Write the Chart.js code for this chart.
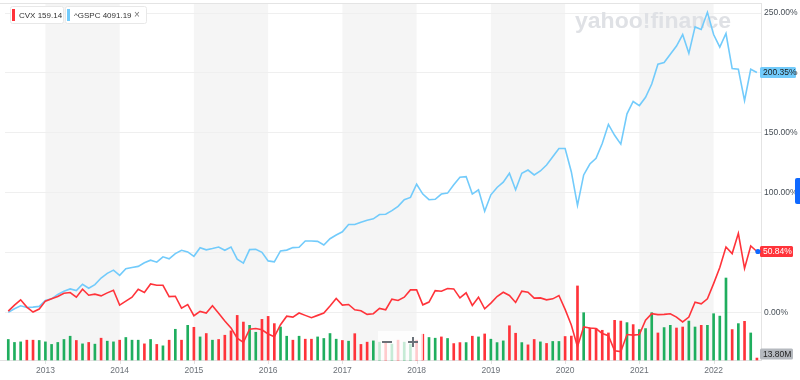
<!DOCTYPE html>
<html><head><meta charset="utf-8">
<script src="https://cdn.jsdelivr.net/npm/chart.js@4.4.1/dist/chart.umd.min.js"></script>
<style>html,body{margin:0;padding:0;background:#fff}#wrap{width:800px;height:380px;position:relative}</style>
</head><body><div id="wrap"><canvas id="c" width="800" height="380"></canvas></div>
<script>
// Monthly categories: Jul 2012 .. Aug 2022
const monthNames = ['Jan','Feb','Mar','Apr','May','Jun','Jul','Aug','Sep','Oct','Nov','Dec'];
const months = [];
for (let y = 2012, m = 6; !(y === 2022 && m === 8); ) { months.push(monthNames[m] + ' ' + y); m++; if (m === 12) { m = 0; y++; } }

const yearLabels = ['2013','2014','2015','2016','2017','2018','2019','2020','2021','2022'];
const shadedYears = ['2013','2015','2017','2019','2021'];
const pctTicks = [0, 50, 100, 150, 200, 250];

// CVX % change
const cvx = [
 1.0, 6.1, 10.5, 4.4, 0.3, 2.8, 9.4, 11.3, 13.2, 16.0,
 16.6, 12.7, 19.3, 14.3, 15.2, 13.8, 16.3, 18.5, 6.1, 9.4,
 12.7, 19.3, 16.6, 23.7, 22.6, 22.6, 13.2, 13.5, 3.6, 6.6,
 -2.8, 0.8, -0.5, 5.5, -0.8, -7.2, -13, -21.5, -25, -14,
 -13.5, -14.5, -18, -20.4, -10.3, -3.2, -3.9, -0.5, -2.5, -4.4,
 -2.5, -0.5, 5.4, 11.6, 6.1, 6.6, 2.2, 1.4, -1.7, -1.1,
 3.3, 2.2, 11.0, 9.9, 12.7, 18.8, 18.8, 6.3, 8.6, 18.2,
 17.7, 19.9, 19.6, 12.1, 16.3, 5.8, 12.7, 3.0, 7.7, 13.2,
 16.8, 14.1, 8.3, 17.7, 16.8, 11.9, 12.1, 10.5, 11.3, 14.1,
 2.5, -10.5, -28.7, -12.1, -13.0, -13.5, -17.7, -19.5, -32, -32.8,
 -18.5, -19, -18.5, -6.6, -1.1, -1.9, -1.7, -1.1, -3.9, -8,
 -3.9, 8.5, 7.2, 11.3, 24, 37.5, 54.6, 49.1, 66, 36.7,
 55.5, 50.84
];
// ^GSPC % change
const gspc = [
 0, 3.0, 5.5, 4.1, 4.4, 5.0, 9.9, 11.3, 14.9, 17.7,
 19.6, 18.2, 23.5, 20.2, 23.2, 28.7, 32.6, 35.3, 30.9, 36.4,
 37.5, 38.4, 41.4, 43.6, 41.9, 46.4, 44.7, 49.1, 51.9, 50.5,
 46.8, 54.0, 52.2, 53.3, 54.6, 51.9, 54.6, 44.4, 41.1, 52.4,
 52.7, 50.2, 43.0, 42.2, 51.3, 52.0, 54.1, 54.4, 59.6, 59.6,
 59.3, 56.3, 61.5, 64.6, 67.3, 73.4, 73.4, 75.3, 77.0, 78.1,
 81.7, 82.0, 85, 88.6, 94.1, 96, 107, 98.8, 94.1, 94.4,
 98.8, 99.6, 106.5, 112.9, 113.4, 98.8, 102.4, 84.4, 98.2, 104.3,
 108.7, 116.2, 102.4, 116.2, 118.9, 114.8, 118.1, 123.1, 130, 136.9,
 136.9, 117.5, 89.4, 114.8, 123.9, 128.6, 141, 157, 147.9, 140.5,
 165.8, 176.1, 172.7, 179.6, 190.7, 207.2, 208.6, 215.5, 222.4, 232,
 216.3, 238.4, 236.2, 250.6, 232, 221.6, 232.9, 203.6, 203, 176.9,
 203, 200.35
];
// CVX monthly volume (millions)
const volume = [
 145, 124, 128, 140, 140, 138, 128, 110, 124, 145,
 168, 138, 114, 124, 112, 154, 133, 128, 140, 159,
 140, 140, 114, 145, 110, 100, 140, 217, 140, 245,
 231, 163, 187, 140, 145, 175, 206, 315, 268, 245,
 196, 287, 308, 257, 233, 168, 140, 168, 147, 147,
 163, 152, 187, 147, 138, 133, 186, 110, 126, 135,
 126, 126, 112, 140, 126, 112, 140, 182, 159, 154,
 163, 152, 116, 123, 123, 168, 163, 184, 147, 123,
 135, 242, 189, 123, 107, 145, 128, 117, 131, 131,
 166, 169, 523, 334, 226, 222, 210, 191, 280, 275,
 264, 250, 215, 222, 334, 191, 229, 245, 226, 233,
 275, 233, 245, 245, 327, 310, 579, 215, 257, 273,
 191, 13.8
];
// 1 = up month (green), 0 = down month (red)
const volUp = [
 1,1,1,0,0,1,1,1,1,1,
 1,0,1,0,1,0,1,1,0,1,
 1,1,0,1,0,1,0,1,0,1,
 0,1,0,1,0,0,0,0,0,1,
 1,0,0,0,1,1,0,1,0,0,
 1,1,1,1,0,1,0,0,0,1,
 1,0,1,0,1,1,0,0,1,1,
 0,1,0,0,1,0,1,0,1,1,
 1,0,0,1,0,0,1,0,1,1,
 0,0,0,1,0,0,0,0,0,0,
 1,0,1,1,1,0,1,1,0,0,
 1,1,0,1,1,1,1,0,1,0,
 1,0
];

const RED = '#ff333a', BLUE = '#72cbfb', GREEN = '#1fae5e';
const FONT = '"Liberation Sans", Arial, sans-serif';
const yearIdx = y => months.indexOf('Jan ' + y);

const overlay = {
  id: 'overlay',
  beforeDraw(chart) {
    const {ctx, chartArea: a, scales: {x}} = chart;
    ctx.save();
    ctx.fillStyle = '#f5f5f5';
    shadedYears.forEach(y => {
      const x1 = x.getPixelForValue(yearIdx(y));
      const x2 = x.getPixelForValue(yearIdx(String(+y + 1)));
      ctx.fillRect(x1, 4, x2 - x1, 356);
    });
    // baseline and year tick marks
    ctx.strokeStyle = '#e2e2e2';
    ctx.lineWidth = 1;
    ctx.beginPath();
    ctx.moveTo(a.left - 5, 360.5); ctx.lineTo(a.right, 360.5);
    yearLabels.forEach(y => { const px = Math.round(x.getPixelForValue(yearIdx(y))) + 0.5; ctx.moveTo(px, 360); ctx.lineTo(px, 364); });
    ctx.stroke();
    ctx.restore();
  },
  beforeDatasetsDraw(chart) {
    const {ctx} = chart;
    ctx.save();
    ctx.font = 'bold 22px ' + FONT;
    ctx.fillStyle = '#dfe1e5';
    ctx.textBaseline = 'alphabetic';
    const t = 'yahoo!finance';
    const w = ctx.measureText(t).width;
    ctx.translate(575, 28);
    ctx.scale(156 / w, 1);
    ctx.fillText(t, 0, 0);
    ctx.restore();
  },
  afterDatasetsDraw(chart) {
    const {ctx} = chart;
    ctx.save();
    ctx.fillStyle = 'rgba(255,255,255,0.75)';
    ctx.fillRect(378, 331, 45, 29);
    ctx.strokeStyle = '#6b7178';
    ctx.lineWidth = 2;
    ctx.beginPath();
    ctx.moveTo(382, 342); ctx.lineTo(392, 342);
    ctx.moveTo(408, 342); ctx.lineTo(418, 342);
    ctx.moveTo(413, 337); ctx.lineTo(413, 347);
    ctx.stroke();
    ctx.restore();
  },
  afterDraw(chart) {
    const {ctx, chartArea: a, scales: {x, y, yv}} = chart;
    ctx.save();
    // frame lines
    ctx.strokeStyle = '#e4e4e4';
    ctx.lineWidth = 1;
    ctx.beginPath();
    ctx.moveTo(0, 3.5); ctx.lineTo(a.right + 1, 3.5);
    ctx.moveTo(a.right + 0.5, 3); ctx.lineTo(a.right + 0.5, 361);
    ctx.stroke();

    // legend chips
    const chip = (x0, w, color, text, close) => {
      ctx.fillStyle = '#fff';
      ctx.strokeStyle = '#e8e8e8';
      ctx.beginPath(); ctx.roundRect(x0 + 0.5, 6.5, w, 17, 2); ctx.fill(); ctx.stroke();
      ctx.fillStyle = color; ctx.fillRect(x0 + 2, 9, 3, 12);
      ctx.fillStyle = '#333'; ctx.font = '8px ' + FONT; ctx.textBaseline = 'middle'; ctx.textAlign = 'left';
      ctx.fillText(text, x0 + 9, 15.5);
      if (close) { ctx.fillStyle = '#777'; ctx.font = '10px ' + FONT; ctx.fillText('\u00d7', x0 + w - 12, 15.5); }
    };
    chip(10, 53, RED, 'CVX 159.14', false);
    chip(65, 81, BLUE, '^GSPC 4091.19', true);

    // value boxes on right
    const last = months.length - 1;
    const box = (cy, w, bg, fg, text) => {
      ctx.fillStyle = bg;
      ctx.beginPath(); ctx.roundRect(a.right - 1, cy - 5.5, w, 11, 1.5); ctx.fill();
      ctx.fillStyle = fg; ctx.font = '8.5px ' + FONT; ctx.textBaseline = 'middle'; ctx.textAlign = 'left';
      ctx.fillText(text, a.right + 2, cy + 0.5);
    };
    box(y.getPixelForValue(gspc[last]), 36, BLUE, '#1b1b1b', gspc[last].toFixed(2) + '%');
    box(y.getPixelForValue(cvx[last]), 33, RED, '#fff', cvx[last].toFixed(2) + '%');
    box(Math.min(yv.getPixelForValue(volume[last]), a.bottom - 7), 33, '#b5b9bf', '#222', volume[last].toFixed(2) + 'M');

    // current point marker
    ctx.fillStyle = '#0f69ff';
    ctx.beginPath(); ctx.arc(x.getPixelForValue(last) + 1, y.getPixelForValue(cvx[last]), 2.6, 0, Math.PI * 2); ctx.fill();
    // side tab
    ctx.fillStyle = '#0f69ff';
    ctx.beginPath(); ctx.roundRect(795, 178, 8, 26, 2); ctx.fill();
    ctx.restore();
  }
};

new Chart(document.getElementById('c'), {
  data: {
    datasets: [
      { type: 'line', label: 'CVX', data: cvx.map((v, i) => ({x: i, y: v})), borderColor: RED, borderWidth: 1.6,
        pointRadius: 0, tension: 0, yAxisID: 'y', order: 0 },
      { type: 'line', label: '^GSPC', data: gspc.map((v, i) => ({x: i, y: v})), borderColor: BLUE, borderWidth: 1.6,
        pointRadius: 0, tension: 0, yAxisID: 'y', order: 0 },
      { type: 'bar', label: 'Volume', data: volume.map((v, i) => ({x: i, y: v})),
        backgroundColor: volUp.map(u => u ? GREEN : RED), barThickness: 2, yAxisID: 'yv', order: 1 }
    ]
  },
  options: {
    responsive: false, animation: false, devicePixelRatio: 1,
    layout: { padding: { left: 5, top: 5, right: 0, bottom: 0 } },
    plugins: { legend: { display: false }, tooltip: { enabled: false } },
    scales: {
      x: {
        type: 'linear', min: -0.53, max: 121.66, offset: false, bounds: 'ticks',
        afterBuildTicks: s => { s.ticks = yearLabels.map(y => ({ value: yearIdx(y) })); },
        ticks: { autoSkip: false, maxRotation: 0, padding: -3, color: '#6b7178', font: { size: 8.5, family: FONT },
          callback: v => months[v] ? months[v].slice(4) : '' },
        grid: { display: false, offset: false }, border: { display: false },
        afterFit: s => { s.height = 19; }
      },
      y: {
        position: 'right', min: -40.6, max: 254.1,
        afterBuildTicks: s => { s.ticks = pctTicks.map(v => ({ value: v })); },
        ticks: { padding: 3, color: '#464e56', font: { size: 8.5, family: FONT },
          callback: v => v === 50 ? '' : v.toFixed(2) + '%' },
        grid: { color: '#efefef', drawTicks: false }, border: { display: false },
        afterFit: s => { s.width = 39; }
      },
      yv: { display: false, min: -7, max: 2485 }
    }
  },
  plugins: [overlay]
});
</script>
</body></html>
